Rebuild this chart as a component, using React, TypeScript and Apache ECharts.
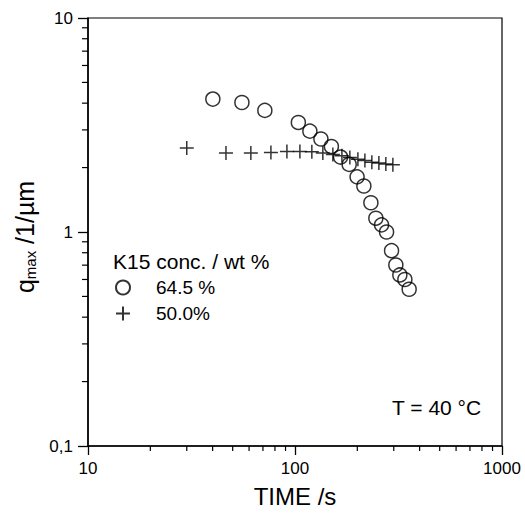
import React, { useEffect, useRef } from "react";
import * as echarts from "echarts";

const circleTime = [40.1, 55.4, 71.5, 103.8, 118, 133.4, 149.9, 166, 182.7, 199.5, 215.1, 232.6, 245.8, 261.9, 276.9, 292.7, 307, 321, 339.4, 356];
const circleQ = [4.18, 4.03, 3.7, 3.25, 2.96, 2.72, 2.51, 2.24, 2.07, 1.81, 1.64, 1.37, 1.16, 1.08, 1.0, 0.818, 0.701, 0.63, 0.6, 0.54];

const crossTime = [30, 46.4, 61.2, 76.5, 91.4, 105.6, 120.6, 136.3, 152.4, 168.5, 184.1, 201.3, 217.6, 235.1, 254.2, 274.7, 297];
const crossQ = [2.47, 2.34, 2.34, 2.35, 2.38, 2.38, 2.37, 2.34, 2.3, 2.27, 2.23, 2.19, 2.16, 2.12, 2.1, 2.08, 2.06];

const xMinorTicks = [20, 30, 40, 50, 60, 70, 80, 90, 200, 300, 400, 500, 600, 700, 800, 900];
const yMinorTicks = [0.2, 0.3, 0.4, 0.5, 0.6, 0.7, 0.8, 0.9, 2, 3, 4, 5, 6, 7, 8, 9];

const seriesNames = ["64.5 %", "50.0%"];
const legendTitle = "K15 conc. / wt %";
const annotation = "T = 40 °C";

const FONT = "'Liberation Sans', Arial, sans-serif";
const CROSS = "path://M0,7H14M7,0V14";

export default function App() {
  const ref = useRef<HTMLDivElement>(null);
  useEffect(() => {
    if (!ref.current) return;
    const chart = echarts.init(ref.current, undefined, { renderer: "svg" });
    const option: any = {
      animation: false,
      backgroundColor: "#fff",
      textStyle: { fontFamily: FONT, color: "#000" },
      grid: {
        left: 88,
        right: 23,
        top: 18,
        bottom: 67,
        show: true,
        borderColor: "#000",
        borderWidth: 1.2,
        backgroundColor: "transparent",
      },
      xAxis: {
        type: "log",
        logBase: 10,
        min: 10,
        max: 1000,
        name: "TIME /s",
        nameLocation: "middle",
        nameGap: 38,
        nameTextStyle: { fontSize: 24, fontFamily: FONT, color: "#000" },
        axisLine: { show: true, lineStyle: { color: "#000", width: 1.5 } },
        axisTick: { show: true, inside: false, length: 9, lineStyle: { color: "#000", width: 1.3 } },
        axisLabel: {
          fontSize: 17,
          fontFamily: FONT,
          color: "#000",
          margin: 14,
          formatter: (v: number) => String(Math.round(v)),
        },
        splitLine: { show: false },
      },
      yAxis: {
        type: "log",
        logBase: 10,
        min: 0.1,
        max: 10,
        name: "{q|q}{s|max}{q| /1/µm}",
        nameLocation: "middle",
        nameGap: 50,
        nameRotate: 90,
        nameTextStyle: {
          fontFamily: FONT,
          color: "#000",
          padding: [0, 10, 0, 0],
          rich: {
            q: { fontSize: 25, fontFamily: FONT, color: "#000", lineHeight: 26 },
            s: { fontSize: 15, fontFamily: FONT, color: "#000", verticalAlign: "bottom", lineHeight: 15, padding: [14, 0, 0, 0] },
          },
        },
        axisLine: { show: true, lineStyle: { color: "#000", width: 1.5 } },
        axisTick: { show: true, inside: false, length: 10, lineStyle: { color: "#000", width: 1.3 } },
        axisLabel: {
          fontSize: 17,
          fontFamily: FONT,
          color: "#000",
          margin: 15,
          formatter: (v: number) => (v < 0.5 ? "0,1" : String(Math.round(v))),
        },
        splitLine: { show: false },
      },
      legend: {
        data: seriesNames,
        orient: "vertical",
        left: 115,
        top: 278,
        padding: 0,
        itemWidth: 14,
        itemHeight: 14,
        itemGap: 7,
        textStyle: { fontSize: 19, fontFamily: FONT, color: "#000", padding: [0, 0, 0, 21] },
      },
      graphic: [
        {
          type: "text",
          left: 113,
          top: 251,
          style: { text: legendTitle, font: `21px ${FONT}`, fill: "#000" },
        },
        {
          type: "text",
          left: 392,
          top: 397,
          style: { text: annotation, font: `21px ${FONT}`, fill: "#000" },
        },
      ],
      series: [
        {
          name: seriesNames[0],
          type: "scatter",
          symbol: "circle",
          symbolSize: 14,
          itemStyle: { color: "rgba(0,0,0,0)", borderColor: "#000", borderWidth: 1.5 },
          data: circleTime.map((t, i) => [t, circleQ[i]]),
          z: 3,
        },
        {
          name: seriesNames[1],
          type: "scatter",
          symbol: CROSS,
          symbolSize: 14,
          itemStyle: { color: "rgba(0,0,0,0)", borderColor: "#000", borderWidth: 1.5 },
          data: crossTime.map((t, i) => [t, crossQ[i]]),
          z: 3,
        },
        {
          name: "minorTicks",
          type: "custom",
          silent: true,
          clip: false,
          z: 5,
          data: [[100, 1]],
          renderItem: (params: any, api: any) => {
            const cs = params.coordSys;
            const yb = cs.y + cs.height;
            const xl = cs.x;
            const children: any[] = [];
            xMinorTicks.forEach((v) => {
              const p = api.coord([v, 1]);
              children.push({
                type: "line",
                shape: { x1: p[0], y1: yb, x2: p[0], y2: yb + 5 },
                style: { stroke: "#000", lineWidth: 1.2 },
              });
            });
            yMinorTicks.forEach((v) => {
              const p = api.coord([100, v]);
              children.push({
                type: "line",
                shape: { x1: xl - 6, y1: p[1], x2: xl, y2: p[1] },
                style: { stroke: "#000", lineWidth: 1.2 },
              });
            });
            return { type: "group", children };
          },
        },
      ],
    };
    chart.setOption(option);
    return () => chart.dispose();
  }, []);
  return (
    <div
      ref={ref}
      style={{ position: "fixed", left: 0, top: 0, width: 525, height: 513, background: "#fff" }}
    />
  );
}
